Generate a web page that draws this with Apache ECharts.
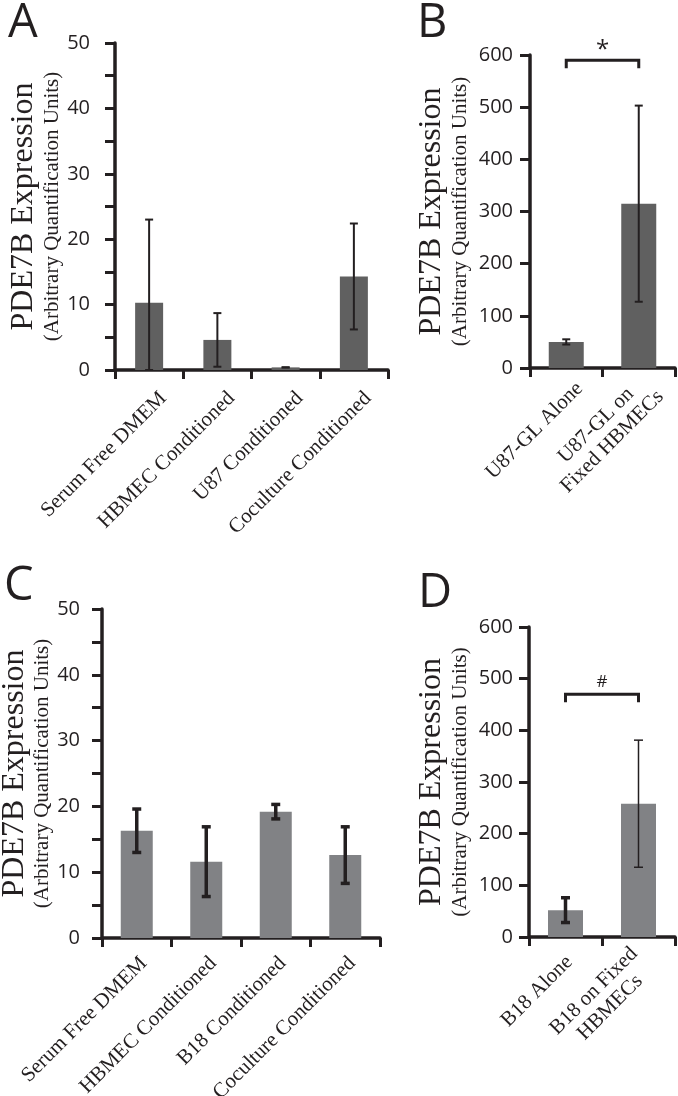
<!DOCTYPE html>
<html><head><meta charset="utf-8">
<script src="https://cdn.jsdelivr.net/npm/echarts@6/dist/echarts.min.js"></script>
<style>html,body{margin:0;padding:0;background:#fff}#c{width:678px;height:1096px}</style>
</head><body><div id="c"></div>
<script>
// ---- data ----
const catA = ['Serum Free DMEM', 'HBMEC Conditioned', 'U87 Conditioned', 'Coculture Conditioned'];
const meanA = [10.3, 4.6, 0.4, 14.3];
const errA = [12.7, 4.1, 0, 8.1];

const catB = ['U87-GL Alone', 'U87-GL on\nFixed HBMECs'];
const meanB = [50, 315];
const errB = [5, 188];
const bracketB = [0, 1, 590];
const markB = '*';

const catC = ['Serum Free DMEM', 'HBMEC Conditioned', 'B18 Conditioned', 'Coculture Conditioned'];
const meanC = [16.3, 11.6, 19.2, 12.6];
const errC = [3.3, 5.3, 1.1, 4.3];

const catD = ['B18 Alone', 'B18 on Fixed\nHBMECs'];
const meanD = [52, 258];
const errD = [24, 123];
const bracketD = [0, 1, 470];
const markD = '#';

const yMaxSmall = 50, yStepSmall = 5, yLabelStepSmall = 10;
const yMaxLarge = 600, yStepLarge = 100;
const panelLetters = ['A', 'B', 'C', 'D'];
const yTitle = 'PDE7B Expression';
const ySubTitle = '(Arbitrary Quantification Units)';

// ---- styles / layout ----
const INK = '#231f20';
const DARK = '#606060', LIGHT = '#818285';
const SERIF = '"Liberation Serif", "Times New Roman", serif';
const SANS = '"Open Sans", "DejaVu Sans", sans-serif';

const panels = [
  {cats: catA, mean: meanA, err: errA, max: yMaxSmall, step: yStepSmall, labelStep: yLabelStepSmall,
   grid: {left: 115, top: 43, width: 273, height: 327}, color: DARK, barW: 28,
   errW: [2, 2, 2, 2], capW: 8, nameGap: 52, labelMargin: 25, xMargin: 11, xPad: 40},
  {cats: catB, mean: meanB, err: errB, max: yMaxLarge, step: yStepLarge, labelStep: yStepLarge,
   grid: {left: 530, top: 55, width: 145, height: 313}, color: DARK, barW: 35,
   errW: [2, 2], capW: 8, nameGap: 59, labelMargin: 17, xMargin: 4, xPad: 38,
   bracket: bracketB, mark: markB, markSize: 24, markDy: -10},
  {cats: catC, mean: meanC, err: errC, max: yMaxSmall, step: yStepSmall, labelStep: yLabelStepSmall,
   grid: {left: 102, top: 609, width: 278, height: 329}, color: LIGHT, barW: 32,
   errW: [3.5, 3.5, 3.5, 3.5], capW: 9, nameGap: 44, labelMargin: 22, xMargin: 15, xPad: 20},
  {cats: catD, mean: meanD, err: errD, max: yMaxLarge, step: yStepLarge, labelStep: yStepLarge,
   grid: {left: 529, top: 627, width: 146, height: 310}, color: LIGHT, barW: 35,
   errW: [3.5, 1.5], capW: 9, nameGap: 58, labelMargin: 16, xMargin: 18, xPad: 11,
   bracket: bracketD, mark: markD, markSize: 17, markDy: -12}
];

const grids = [], xAxes = [], yAxes = [], series = [];
panels.forEach((p, i) => {
  grids.push(Object.assign({containLabel: false, outerBoundsMode: 'none'}, p.grid));
  xAxes.push({
    type: 'category', gridIndex: i, data: p.cats, boundaryGap: true,
    axisLine: {lineStyle: {color: INK, width: 3.5}},
    axisTick: {show: true, inside: false, length: 9, lineStyle: {color: INK, width: 3}},
    axisLabel: {
      rotate: 45, margin: p.xMargin, color: INK, fontFamily: SERIF, fontSize: 21, interval: 0,
      padding: [p.xPad, 0, 0, 0],
      formatter: v => v.split('\n').map(s => '{c|' + s + '}').join('\n'),
      rich: {c: {align: 'center', fontFamily: SERIF, fontSize: 21, color: INK, lineHeight: 23}}
    },
    splitLine: {show: false}
  });
  yAxes.push({
    type: 'value', gridIndex: i, min: 0, max: p.max, interval: p.step,
    axisLine: {show: true, lineStyle: {color: INK, width: 3.5}},
    axisTick: {show: true, inside: false, length: 10, lineStyle: {color: INK, width: 3}},
    axisLabel: {margin: p.labelMargin, color: INK, fontFamily: SANS, fontSize: 20,
      formatter: v => (v % p.labelStep === 0 ? String(v) : '')},
    splitLine: {show: false},
    name: '{m|' + yTitle + '}\n{s|' + ySubTitle + '}',
    nameLocation: 'middle', nameRotate: 90, nameGap: p.nameGap,
    nameTextStyle: {rich: {
      m: {fontFamily: SERIF, fontSize: 32, lineHeight: 34, color: INK},
      s: {fontFamily: SERIF, fontSize: 21, lineHeight: 22, color: INK}
    }}
  });
  series.push({
    type: 'bar', xAxisIndex: i, yAxisIndex: i, data: p.mean, barWidth: p.barW,
    itemStyle: {color: p.color}, silent: true
  });
  series.push({
    type: 'custom', xAxisIndex: i, yAxisIndex: i, silent: true, z: 5,
    data: p.mean.map((m, k) => [k, Math.max(0, m - p.err[k]), m + p.err[k]]),
    renderItem: (params, api) => {
      const k = api.value(0);
      const lo = api.coord([k, api.value(1)]);
      const hi = api.coord([k, api.value(2)]);
      const w = p.errW[k], c = p.capW / 2;
      const st = {stroke: INK, lineWidth: w};
      return {type: 'group', children: [
        {type: 'line', shape: {x1: hi[0], y1: hi[1], x2: lo[0], y2: lo[1]}, style: st},
        {type: 'line', shape: {x1: hi[0] - c, y1: hi[1], x2: hi[0] + c, y2: hi[1]}, style: st},
        {type: 'line', shape: {x1: lo[0] - c, y1: lo[1], x2: lo[0] + c, y2: lo[1]}, style: st}
      ]};
    }
  });
  if (p.bracket) {
    series.push({
      type: 'custom', xAxisIndex: i, yAxisIndex: i, silent: true, z: 5,
      data: [p.bracket],
      renderItem: (params, api) => {
        const a = api.coord([api.value(0), api.value(2)]);
        const b = api.coord([api.value(1), api.value(2)]);
        return {type: 'group', children: [
          {type: 'polyline', shape: {points: [[a[0], a[1] + 8], [a[0], a[1]], [b[0], b[1]], [b[0], b[1] + 8]]},
           style: {stroke: INK, lineWidth: 3, fill: null}},
          {type: 'text', x: (a[0] + b[0]) / 2, y: a[1] + p.markDy,
           style: {text: p.mark, fill: INK, font: p.markSize + 'px ' + SANS, textAlign: 'center', textVerticalAlign: 'middle'}}
        ]};
      }
    });
  }
});

const letterPos = [[8, 0], [417, 0], [4, 563], [418, 570]];
const graphic = panelLetters.map((t, i) => ({
  type: 'text', left: letterPos[i][0], top: letterPos[i][1],
  style: {text: t, fill: INK, font: '47px ' + SANS}
}));

const chart = echarts.init(document.getElementById('c'), null, {renderer: 'canvas'});
chart.setOption({
  animation: false, backgroundColor: '#fff',
  grid: grids, xAxis: xAxes, yAxis: yAxes, series: series, graphic: graphic
});
</script>
</body></html>
